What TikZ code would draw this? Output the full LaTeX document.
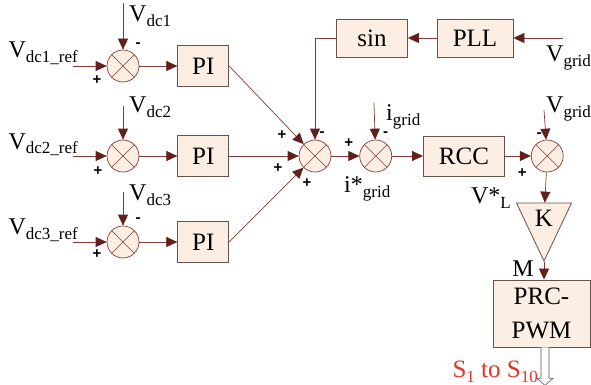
\documentclass[tikz,border=0pt]{standalone}
\usepackage{fontspec}
\setmainfont{Liberation Serif}
\newfontfamily\signfont{Liberation Sans}
\usetikzlibrary{positioning, arrows.meta, shapes.geometric}
\definecolor{lineBrown}{RGB}{128,60,52}
\definecolor{tipBrown}{RGB}{98,32,27}
\definecolor{blockFill}{RGB}{252,238,226}
\definecolor{blockEdge}{RGB}{100,82,78}
\definecolor{sigRed}{RGB}{228,48,42}
\newcommand{\lowtxt}[1]{\raisebox{-5pt}{\fontsize{17}{17}\selectfont #1}}

\begin{document}
\begin{tikzpicture}[
        x=1pt, y=-1pt,
        sumNode/.style={draw=lineBrown, circle, fill=blockFill, minimum size=32pt, inner sep=0pt, line width=0.7pt,
            path picture={\draw[lineBrown, line width=0.6pt] (path picture bounding box.north west) -- (path picture bounding box.south east)
                (path picture bounding box.north east) -- (path picture bounding box.south west);}},
        blockNode/.style={draw=blockEdge, fill=blockFill, rectangle, minimum width=51pt, minimum height=41pt, line width=0.8pt,
            inner sep=2pt, font=\fontsize{25}{27}\selectfont},
        gainNode/.style={draw=blockEdge, fill=blockFill, isosceles triangle, isosceles triangle stretches, shape border rotate=270,
            minimum width=55pt, minimum height=58pt, inner sep=0pt, line width=0.8pt, font=\fontsize{25}{27}\selectfont},
        outArrow/.style={draw=blockEdge, fill=white, line width=0.6pt},
        arrow/.style={draw=lineBrown, line width=0.7pt, -{Triangle[length=11pt, width=10pt, color=tipBrown]}},
        lbl/.style={font=\fontsize{24}{26}\selectfont, inner sep=0pt},
        sign/.style={font=\signfont\bfseries\fontsize{15}{15}\selectfont, inner sep=0pt}
    ]
        \useasboundingbox (0,0) rectangle (591,385);

        % Voltage loops
        \node[sumNode] (sum1) at (123,66) {};
        \node[sumNode] (sum2) at (123,156) {};
        \node[sumNode] (sum3) at (123,242) {};
        \node[blockNode, right=38pt of sum1] (pi1) {PI};
        \node[blockNode, right=38pt of sum2] (pi2) {PI};
        \node[blockNode, right=38pt of sum3] (pi3) {PI};

        \coordinate (ref1) at (73,66);
        \coordinate (ref2) at (73,156);
        \coordinate (ref3) at (73,242);
        \node[lbl, anchor=base east] (ref1Lbl) at (78,58) {V\lowtxt{dc1\_ref}};
        \node[lbl, anchor=base east] (ref2Lbl) at (78,149) {V\lowtxt{dc2\_ref}};
        \node[lbl, anchor=base east] (ref3Lbl) at (78,234) {V\lowtxt{dc3\_ref}};

        \coordinate (vdc1In) at (123,3);
        \coordinate (vdc2In) at (123,106);
        \coordinate (vdc3In) at (123,192);
        \node[lbl, anchor=base west] (vdc1Lbl) at (129,22) {V\lowtxt{dc1}};
        \node[lbl, anchor=base west] (vdc2Lbl) at (129,113) {V\lowtxt{dc2}};
        \node[lbl, anchor=base west] (vdc3Lbl) at (129,200) {V\lowtxt{dc3}};

        \node[sign] (p1) at ([shift={(-26,14)}]sum1) {+};
        \node[sign] (m1) at ([shift={(15,-21)}]sum1) {-};
        \node[sign] (p2) at ([shift={(-25,15)}]sum2) {+};
        \node[sign] (p3) at ([shift={(-26,12)}]sum3) {+};
        \node[sign] (m3) at ([shift={(15,-22)}]sum3) {-};

        % Current reference
        \node[sumNode] (sumAll) at (315,156) {};
        \node[sumNode, right=28pt of sumAll] (sumI) {};
        \node[blockNode, minimum width=81pt, minimum height=40pt, right=31pt of sumI] (rcc) {RCC};
        \node[sumNode, right=26pt of rcc] (sumV) {};
        \node[blockNode, minimum width=71pt, minimum height=38pt] (sinBlk) at (372,38) {sin};
        \node[blockNode, minimum width=76pt, minimum height=38pt] (pll) at (475,38) {PLL};
        \coordinate (vgIn) at (563,38);
        \coordinate (igIn) at (374,103);
        \coordinate (vgIn2) at (544,110);
        \node[lbl, anchor=base west] (vgLbl) at (546,62) {V\lowtxt{grid}};
        \node[lbl, anchor=base west] (igLbl) at (386,121) {i\lowtxt{grid}};
        \node[lbl, anchor=base west] (irefLbl) at (344,192) {i*\lowtxt{grid}};
        \node[lbl, anchor=base west] (vg2Lbl) at (546,113) {V\lowtxt{grid}};

        \node[sign] (pa) at ([shift={(-33,-21)}]sumAll) {+};
        \node[sign] (pb) at ([shift={(-37,12)}]sumAll) {+};
        \node[sign] (pc) at ([shift={(-8,27)}]sumAll) {+};
        \node[sign] (ma) at ([shift={(7,-22)}]sumAll) {-};
        \node[sign] (pi) at ([shift={(-27,-13)}]sumI) {+};
        \node[sign] (mi) at ([shift={(10,-22)}]sumI) {-};
        \node[sign] (pv) at ([shift={(-25,17)}]sumV) {+};
        \node[sign] (mv) at ([shift={(-8,-21)}]sumV) {-};

        % Modulation
        \node[gainNode, anchor=center] (gainK) at (544,218) {K};
        \node[blockNode, minimum width=97pt, minimum height=67pt, align=center, font=\fontsize{25}{34}\selectfont] (pwm) at (541.5,313.5) {PRC-\\PWM};
        \node[lbl, anchor=base east] (vlLbl) at (511,203) {V*\lowtxt{L}};
        \node[lbl, anchor=base east] (mLbl) at (534,276) {M};
        \node[lbl, anchor=base east, text=sigRed, font=\fontsize{25}{26}\selectfont] (sLbl) at (538,377)
            {S\raisebox{-5pt}{\fontsize{17}{17}\selectfont 1} to S\raisebox{-5pt}{\fontsize{17}{17}\selectfont 10}};

        % Arrows
        \draw[arrow] (ref1) -- (sum1);
        \draw[arrow] (ref2) -- (sum2);
        \draw[arrow] (ref3) -- (sum3);
        \draw[arrow] (vdc1In) -- (sum1);
        \draw[arrow] (vdc2In) -- (sum2);
        \draw[arrow] (vdc3In) -- (sum3);
        \draw[arrow] (sum1) -- (pi1);
        \draw[arrow] (sum2) -- (pi2);
        \draw[arrow] (sum3) -- (pi3);
        \draw[arrow] (pi1.east) -- (sumAll);
        \draw[arrow] (pi2) -- (sumAll);
        \draw[arrow] (pi3.east) -- (sumAll);
        \draw[arrow] (vgIn) -- (pll);
        \draw[arrow] (pll) -- (sinBlk);
        \draw[arrow] (sinBlk.west) -| (sumAll);
        \draw[arrow] (sumAll) -- (sumI);
        \draw[arrow] (igIn) -- (sumI);
        \draw[arrow] (sumI) -- (rcc);
        \draw[arrow] (rcc) -- (sumV);
        \draw[arrow] (vgIn2) -- (sumV);
        \draw[arrow] (sumV) -- (gainK);
        \draw[arrow] (gainK.apex) -- (gainK.apex |- pwm.north);

        % Switching signals
        \draw[outArrow] ([xshift=-0.5pt]pwm.south) -- ++(0,31) -- ++(-4,0) -- ++(8,7) -- ++(8,-7) -- ++(-4,0) -- ++(0,-31);
    \end{tikzpicture}
\end{document}
